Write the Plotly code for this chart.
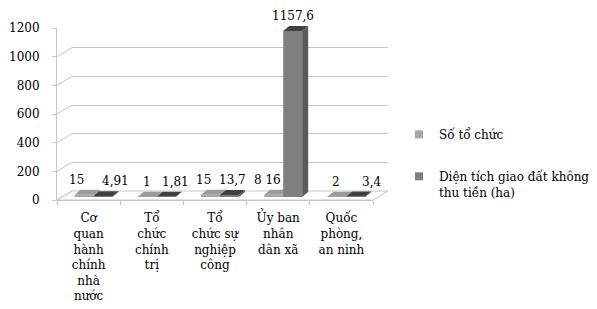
import plotly.graph_objects as go

# ---------------- data ----------------
categories = [
    "Cơ<br>quan<br>hành<br>chính<br>nhà<br>nước",
    "Tổ<br>chức<br>chính<br>trị",
    "Tổ<br>chức sự<br>nghiệp<br>công",
    "Ủy ban<br>nhân<br>dân xã",
    "Quốc<br>phòng,<br>an ninh",
]
series_names = ["Số tổ chức", "Diện tích giao đất không<br>thu tiền (ha)"]
so_to_chuc = [15, 1, 15, 16, 2]                    # bar heights as drawn
so_to_chuc_labels = ["15", "1", "15", "8 16", "2"]  # data labels as printed
dien_tich = [4.91, 1.81, 13.7, 1157.6, 3.4]
y_ticks = [0, 200, 400, 600, 800, 1000, 1200]

# ---------------- styling / geometry ----------------
OFF = 8                       # page body margin
W, H = 597 - OFF, 309 - OFF
ML, MR, MT, MB = 57 - OFF, 209, 19 - OFF, 109
PW = W - ML - MR
PH = H - MT - MB
FRONT_W, FRONT_H = 316, 172
DEPTH_X, DEPTH_Y = 15, 9      # back wall offset (px)
BAR_X, BAR_Y = 5, 3           # bar row offset (px)
FACE_X, FACE_Y = 6, 5         # bar depth (px)
YMAX = 1200
n = len(categories)
ux = n / FRONT_W
uy = YMAX / FRONT_H

GRID = "#c6c6c6"
LIGHT_FRONT, LIGHT_TOP, LIGHT_SIDE = "#a6a6a6", "#9a9a9a", "#8c8c8c"
DARK_FRONT, DARK_TOP, DARK_SIDE = "#7f7f7f", "#404040", "#5a5a5a"
FONT = "DejaVu Serif"
FS = 12
TXT = "#000000"
NUDGE_LIGHT = [-8, 0, -7, -6, -1]
NUDGE_DARK = [12, 9, 3, 0, 16]

xs = list(range(n))

fig = go.Figure()
# dummy traces so every subplot renders
fig.add_trace(go.Scatter(x=[None], y=[None], xaxis="x", yaxis="y",
                         showlegend=False, hoverinfo="skip"))
fig.add_trace(go.Scatter(x=[None], y=[None], xaxis="x4", yaxis="y",
                         showlegend=False, hoverinfo="skip"))
fig.add_trace(go.Scatter(x=[None], y=[None], xaxis="x2", yaxis="y2",
                         showlegend=False, hoverinfo="skip"))
fig.add_trace(go.Bar(x=xs, y=so_to_chuc, name=series_names[0], showlegend=False,
                     marker=dict(color=LIGHT_FRONT, line=dict(width=0)),
                     xaxis="x3", yaxis="y3", hoverinfo="skip"))
fig.add_trace(go.Bar(x=xs, y=dien_tich, name=series_names[1], showlegend=False,
                     marker=dict(color=DARK_FRONT, line=dict(width=0)),
                     xaxis="x3", yaxis="y3", hoverinfo="skip"))
# legend entries (small square keys)
for name, col, grp in [(series_names[0], LIGHT_FRONT, "a"),
                       (series_names[1], DARK_FRONT, "b")]:
    fig.add_trace(go.Scatter(x=[None], y=[None], mode="markers", name=name,
                             legendgroup=grp, xaxis="x3", yaxis="y3",
                             marker=dict(symbol="square", size=8, color=col),
                             hoverinfo="skip"))

shapes = []
# floor
fx0, fx1 = 0, FRONT_W / PW
bx0, bx1 = DEPTH_X / PW, (DEPTH_X + FRONT_W) / PW
by = DEPTH_Y / PH
shapes.append(dict(type="path", xref="paper", yref="paper",
                   path=f"M{fx0},0 L{fx1},0 L{bx1},{by} L{bx0},{by} Z",
                   line=dict(color=GRID, width=1), fillcolor="rgba(0,0,0,0)",
                   layer="below"))
# left wall connectors
for t in y_ticks:
    shapes.append(dict(type="line", xref="paper", yref="y",
                       x0=0, y0=t, x1=DEPTH_X / PW, y1=t + DEPTH_Y * uy,
                       line=dict(color=GRID, width=1), layer="below"))

# 3D faces of bars
fxu, fyu = FACE_X * ux, FACE_Y * uy
def faces(l, r, v, top, side):
    out = []
    out.append(dict(type="path", xref="x3", yref="y3", layer="between",
                    path=f"M{l},{v} L{r},{v} L{r+fxu},{v+fyu} L{l+fxu},{v+fyu} Z",
                    fillcolor=top, line=dict(width=0)))
    out.append(dict(type="path", xref="x3", yref="y3", layer="between",
                    path=f"M{r},0 L{r+fxu},{fyu} L{r+fxu},{v+fyu} L{r},{v} Z",
                    fillcolor=side, line=dict(width=0)))
    return out

for i in xs:
    shapes += faces(i - 0.3, i, so_to_chuc[i], LIGHT_TOP, LIGHT_SIDE)
    shapes += faces(i, i + 0.3, dien_tich[i], DARK_TOP, DARK_SIDE)

annotations = []
for i in xs:
    annotations.append(dict(xref="x3", yref="y3", x=i - 0.15, y=so_to_chuc[i],
                            text=so_to_chuc_labels[i], showarrow=False,
                            yanchor="middle", yshift=15, xshift=NUDGE_LIGHT[i],
                            font=dict(family=FONT, size=FS, color=TXT)))
    annotations.append(dict(xref="x3", yref="y3", x=i + 0.15, y=dien_tich[i],
                            text=f"{dien_tich[i]:g}".replace(".", ","),
                            showarrow=False, yanchor="middle", yshift=15,
                            xshift=NUDGE_DARK[i],
                            font=dict(family=FONT, size=FS, color=TXT)))

hidden = dict(showgrid=False, showticklabels=False, showline=False,
              zeroline=False, ticks="")

fig.update_layout(
    width=W, height=H,
    margin=dict(l=ML, r=MR, t=MT, b=MB, pad=0, autoexpand=False),
    paper_bgcolor="white", plot_bgcolor="rgba(0,0,0,0)",
    font=dict(family=FONT, size=FS, color=TXT),
    barmode="group", bargap=0.4, bargroupgap=0,
    xaxis=dict(domain=[0, FRONT_W / PW], anchor="y", range=[-0.5, n - 0.5],
               tickmode="array", tickvals=xs, ticktext=categories, ticks="",
               showline=True, linecolor=GRID, linewidth=1, showgrid=False,
               zeroline=False, tickfont=dict(family=FONT, size=FS),
               ticklabelstandoff=7, automargin=False),
    xaxis4=dict(overlaying="x", anchor="y", side="bottom",
                range=[-0.5, n - 0.5], tickmode="array",
                tickvals=[i - 0.5 for i in range(n + 1)], ticks="outside",
                ticklen=4, tickcolor=GRID, showticklabels=False,
                showline=False, showgrid=False, zeroline=False),
    yaxis=dict(domain=[0, FRONT_H / PH], anchor="x", range=[0, YMAX],
               tickmode="array", tickvals=y_ticks, ticks="outside", ticklen=4,
               tickcolor=GRID, showline=True, linecolor=GRID, linewidth=1,
               showgrid=False, zeroline=False,
               tickfont=dict(family=FONT, size=FS),
               ticklabelstandoff=10, automargin=False),
    xaxis2=dict(domain=[DEPTH_X / PW, (DEPTH_X + FRONT_W) / PW], anchor="y2",
                range=[-0.5, n - 0.5], **hidden),
    yaxis2=dict(domain=[DEPTH_Y / PH, (DEPTH_Y + FRONT_H) / PH], anchor="x2",
                range=[0, YMAX], tickmode="array", tickvals=y_ticks,
                showgrid=True, gridcolor=GRID, gridwidth=1,
                showticklabels=False, showline=False, zeroline=False, ticks=""),
    xaxis3=dict(domain=[BAR_X / PW, (BAR_X + FRONT_W) / PW], anchor="y3",
                range=[-0.5, n - 0.5], **hidden),
    yaxis3=dict(domain=[BAR_Y / PH, (BAR_Y + FRONT_H) / PH], anchor="x3",
                range=[0, YMAX], **hidden),
    legend=dict(xref="container", yref="container", x=(399 - OFF) / W,
                xanchor="left", y=1 - (120 - OFF) / H, yanchor="top",
                valign="top", tracegroupgap=23,
                font=dict(family=FONT, size=FS), bgcolor="rgba(0,0,0,0)"),
    shapes=shapes, annotations=annotations,
)

fig.write_html("out.html")
